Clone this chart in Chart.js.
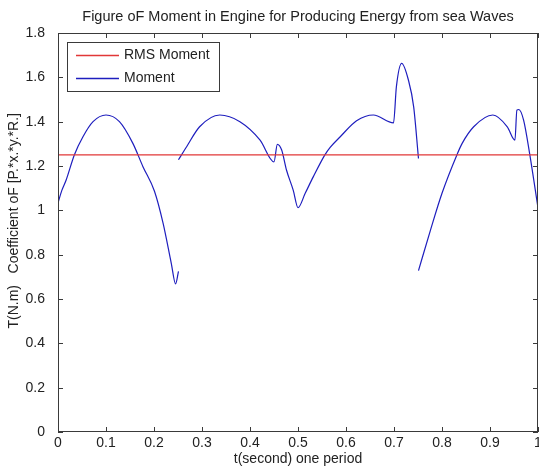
<!DOCTYPE html>
<html>
<head>
<meta charset="utf-8">
<script src="https://cdn.jsdelivr.net/npm/chart.js@4.4.0/dist/chart.umd.min.js"></script>
<style>
body{margin:0;background:#fff}
</style>
</head>
<body>
<canvas id="c" width="539" height="476"></canvas>
<script>
// one period of the engine moment, null marks a jump in the curve
const timeValues = [
  0, 0.008, 0.017, 0.034, 0.052, 0.073, 0.1, 0.128, 0.156, 0.177, 0.201, 0.219, 0.236, 0.245, 0.251,
  0.251,
  0.251, 0.268, 0.295, 0.337, 0.379, 0.421, 0.45, 0.457, 0.466, 0.476, 0.49, 0.5, 0.515, 0.532, 0.556,
  0.567, 0.588, 0.622, 0.657, 0.699, 0.705, 0.716, 0.73, 0.741, 0.751,
  0.751,
  0.751, 0.776, 0.8, 0.831, 0.842, 0.866, 0.906, 0.936, 0.952, 0.956, 0.96, 0.97, 0.983, 1
]
const momentValues = [
  1.033, 1.09, 1.137, 1.25, 1.332, 1.4, 1.43, 1.4, 1.302, 1.197, 1.086, 0.941, 0.761, 0.668, 0.725,
  null,
  1.228, 1.287, 1.377, 1.43, 1.4, 1.317, 1.219, 1.298, 1.272, 1.182, 1.091, 1.012, 1.077, 1.152, 1.25,
  1.284, 1.332, 1.404, 1.43, 1.395, 1.558, 1.663, 1.588, 1.467, 1.234,
  null,
  0.728, 0.911, 1.077, 1.25, 1.302, 1.377, 1.43, 1.377, 1.317, 1.452, 1.455, 1.407, 1.25, 1.011
]
const rmsTime = [0, 1]
const rmsMoment = [1.25, 1.25]

const xTickLabels = ['0','0.1','0.2','0.3','0.4','0.5','0.6','0.7','0.8','0.9','1']
const yTickLabels = ['0','0.2','0.4','0.6','0.8','1','1.2','1.4','1.6','1.8']

const chartTitle = 'Figure oF Moment in Engine for Producing Energy from sea Waves'
const textColor = '#222'
const boxColor = '#3a3a3a'
const fontFamily = "'Liberation Sans', Arial, sans-serif"

Chart.defaults.font.family = fontFamily
Chart.defaults.font.size = 14
Chart.defaults.color = textColor

// matlab style box with inward ticks, title centred over the axes
const boxTicks = {
  id: 'boxTicks',
  afterDatasetsDraw(chart) {
    const {ctx, chartArea: a, scales: {x, y}} = chart
    ctx.save()
    ctx.strokeStyle = boxColor
    ctx.lineWidth = 1
    ctx.strokeRect(a.left + 0.5, a.top + 0.5, a.right - a.left - 1, a.bottom - a.top - 1)
    ctx.beginPath()
    x.ticks.forEach((t, i) => {
      const px = Math.round(x.getPixelForTick(i)) + 0.5
      ctx.moveTo(px, a.bottom); ctx.lineTo(px, a.bottom - 5)
      ctx.moveTo(px, a.top); ctx.lineTo(px, a.top + 5)
    })
    y.ticks.forEach((t, i) => {
      const py = Math.round(y.getPixelForTick(i)) + 0.5
      ctx.moveTo(a.left, py); ctx.lineTo(a.left + 5, py)
      ctx.moveTo(a.right, py); ctx.lineTo(a.right - 5, py)
    })
    ctx.stroke()
    ctx.fillStyle = textColor
    ctx.font = '14.5px ' + fontFamily
    ctx.textAlign = 'center'
    ctx.textBaseline = 'middle'
    ctx.fillText(chartTitle, (a.left + a.right) / 2, 16.5)
    ctx.restore()
  }
}

// legend drawn inside the plot, top left
const boxLegend = {
  id: 'boxLegend',
  afterDraw(chart) {
    const {ctx, chartArea: a} = chart
    const left = a.left + 9, top = a.top + 9
    ctx.save()
    ctx.font = '14px ' + fontFamily
    let maxW = 0
    chart.data.datasets.forEach(ds => { maxW = Math.max(maxW, ctx.measureText(ds.label).width) })
    const w = Math.round(57 + maxW + 9), h = 49
    ctx.fillStyle = '#fff'
    ctx.fillRect(left, top, w, h)
    ctx.strokeStyle = boxColor
    ctx.lineWidth = 1
    ctx.strokeRect(left + 0.5, top + 0.5, w, h)
    chart.data.datasets.forEach((ds, i) => {
      const yy = top + 13.5 + i * 23
      ctx.strokeStyle = ds.borderColor
      ctx.lineWidth = 1.3
      ctx.beginPath(); ctx.moveTo(left + 9, yy); ctx.lineTo(left + 52, yy); ctx.stroke()
      ctx.fillStyle = textColor
      ctx.textBaseline = 'middle'
      ctx.fillText(ds.label, left + 57, yy)
    })
    ctx.restore()
  }
}

new Chart(document.getElementById('c'), {
  type: 'line',
  data: {
    datasets: [
      {
        label: 'RMS Moment',
        data: rmsTime.map((t, i) => ({x: t, y: rmsMoment[i]})),
        borderColor: 'rgb(225,55,55)',
        borderWidth: 1.2,
        pointRadius: 0
      },
      {
        label: 'Moment',
        data: timeValues.map((t, i) => ({x: t, y: momentValues[i]})),
        borderColor: 'rgb(30,30,190)',
        borderWidth: 1.2,
        pointRadius: 0,
        cubicInterpolationMode: 'monotone',
        spanGaps: false
      }
    ]
  },
  options: {
    responsive: false,
    animation: false,
    devicePixelRatio: 1,
    layout: {padding: {left: 0, right: 1, top: 33, bottom: 0}},
    plugins: {
      legend: {display: false},
      tooltip: {enabled: false},
      title: {display: false}
    },
    scales: {
      x: {
        type: 'linear',
        min: 0,
        max: 1,
        grid: {display: false},
        border: {display: false},
        ticks: {
          stepSize: 0.1,
          autoSkip: false,
          maxRotation: 0,
          padding: -5,
          callback: (v, i) => xTickLabels[i]
        },
        title: {
          display: true,
          text: 't(second) one period',
          padding: {top: 0, bottom: 8.6}
        },
        afterFit: s => { s.height = 44; s.paddingLeft = 0; s.paddingRight = 0 }
      },
      y: {
        min: 0,
        max: 1.8,
        grid: {display: false},
        border: {display: false},
        ticks: {
          stepSize: 0.2,
          padding: 5,
          callback: (v, i) => yTickLabels[i]
        },
        title: {
          display: true,
          text: '      T(N.m)   Coefficient oF [P.*x.*y.*R.]',
          padding: {top: 6, bottom: 0}
        },
        afterFit: s => { s.width = 58; s.paddingTop = 0; s.paddingBottom = 0 }
      }
    }
  },
  plugins: [boxTicks, boxLegend]
})
</script>
</body>
</html>
